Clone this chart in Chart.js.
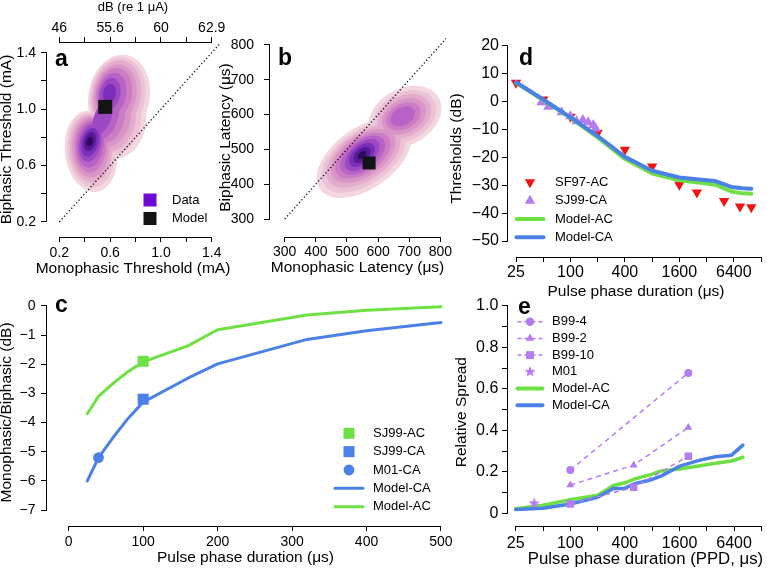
<!DOCTYPE html>
<html>
<head>
<meta charset="utf-8">
<script src="https://cdn.jsdelivr.net/npm/chart.js@4.4.1/dist/chart.umd.min.js"></script>
<style>
  body { margin: 0; background: #fff; width: 767px; height: 569px; position: relative; overflow: hidden; }
  canvas { position: absolute; }
</style>
</head>
<body>
<canvas id="panel-a" width="232" height="285" style="left:0px;top:0px"></canvas>
<canvas id="panel-b" width="240" height="285" style="left:216px;top:0px"></canvas>
<canvas id="panel-d" width="317" height="300" style="left:450px;top:0px"></canvas>
<canvas id="panel-c" width="460" height="284" style="left:0px;top:285px"></canvas>
<canvas id="panel-e" width="317" height="284" style="left:450px;top:285px"></canvas>
<script>
// ---- panel a: thresholds (density contours) ----
const aTicks = [0.2, 0.4, 0.6, 0.8, 1.0, 1.2, 1.4];
const aTickLabels = ['0.2', '', '0.6', '', '1.0', '', '1.4'];
const aDbLabels = ['46', '', '55.6', '', '60', '', '62.9'];
const aModelMono = [0.561];
const aModelBi = [1.016];
const aDiag = [0.2, 1.47];
// contour levels, outer to inner: [centre x, centre y, semi-major, semi-minor, angle deg]
const aLevels = [
  [[0.45, 0.70, 0.29, 0.205, 100], [0.67, 0.88, 0.25, 0.20, 58], [0.67, 1.09, 0.30, 0.24, 75]],
  [[0.45, 0.71, 0.265, 0.185, 98], [0.65, 0.89, 0.23, 0.18, 60], [0.66, 1.095, 0.275, 0.215, 75]],
  [[0.448, 0.72, 0.24, 0.165, 95], [0.63, 0.90, 0.21, 0.16, 62], [0.65, 1.10, 0.25, 0.19, 75]],
  [[0.446, 0.73, 0.215, 0.145, 92], [0.61, 0.91, 0.19, 0.14, 63], [0.64, 1.10, 0.22, 0.165, 75]],
  [[0.445, 0.74, 0.19, 0.125, 88], [0.59, 0.92, 0.17, 0.115, 64], [0.63, 1.105, 0.19, 0.14, 75]],
  [[0.444, 0.75, 0.165, 0.105, 82], [0.565, 0.93, 0.15, 0.09, 65], [0.615, 1.105, 0.155, 0.11, 75]],
  [[0.443, 0.76, 0.135, 0.085, 76], [0.54, 0.94, 0.13, 0.065, 66], [0.60, 1.11, 0.115, 0.08, 75]],
  [[0.442, 0.765, 0.105, 0.065, 72], [0.595, 1.11, 0.07, 0.05, 75]],
  [[0.441, 0.77, 0.07, 0.045, 70]],
  [[0.44, 0.77, 0.035, 0.024, 70]]
];

// ---- panel b: latencies (density contours) ----
const bTicks = [300, 400, 500, 600, 700, 800];
const bTickLabels = ['300', '400', '500', '600', '700', '800'];
const bModelMono = [571];
const bModelBi = [461];
const bDiag = [300, 820];
const bLevels = [
  [[555, 475, 168, 90, 30], [686, 594, 122, 82, 22]],
  [[554, 477, 150, 79, 30], [685, 594, 106, 70, 22]],
  [[553, 479, 132, 69, 30], [684, 595, 90, 59, 22]],
  [[552, 481, 115, 60, 30], [683, 595, 74, 48, 22]],
  [[551, 482, 98, 51, 30], [681, 595, 58, 37, 22]],
  [[550, 483, 81, 43, 32], [679, 595, 41, 26, 22]],
  [[549, 484, 64, 34, 35]],
  [[548, 484, 47, 26, 35]],
  [[548, 484, 31, 18, 35]],
  [[548, 484, 15, 9, 35]]
];
const densityColors = ['#f4d6e1', '#ecc2d6', '#e3accc', '#d995c6', '#cc7cc4',
  '#b862c6', '#9c48c3', '#7b2eb7', '#561a97', '#2e0a58'];

// ---- panel c: monophasic / biphasic ratio ----
const cTicksX = [0, 100, 200, 300, 400, 500];
const cTickLabelsX = ['0', '100', '200', '300', '400', '500'];
const cTicksY = [-7, -6, -5, -4, -3, -2, -1, 0];
const cTickLabelsY = ['\u22127', '\u22126', '\u22125', '\u22124', '\u22123', '\u22122', '\u22121', '0'];
const cPpd = [25, 40, 60, 80, 100, 160, 200, 320, 400, 500];
const cModelAC = [-3.7, -3.1, -2.65, -2.25, -1.92, -1.37, -0.82, -0.31, -0.15, -0.03];
const cModelCA = [-6.0, -5.2, -4.5, -3.85, -3.3, -2.48, -1.99, -1.15, -0.85, -0.57];
const cSj99Ppd = [100];
const cSj99AC = [-1.9];
const cSj99CA = [-3.2];
const cM01Ppd = [40];
const cM01CA = [-5.2];

// ---- panel d: thresholds vs phase duration ----
const logTicks = [25, 50, 100, 200, 400, 800, 1600, 3200, 6400, 12800];
const logTickLabels = ['25', '', '100', '', '400', '', '1600', '', '6400', ''];
const dTicksY = [-50, -40, -30, -20, -10, 0, 10, 20];
const dTickLabelsY = ['\u221250', '\u221240', '\u221230', '\u221220', '\u221210', '0', '10', '20'];
const dSf97Ppd = [25, 50, 100, 200, 400, 800, 1600, 2500, 5000, 7500, 10000];
const dSf97Db = [6.8, 0.8, -5.4, -11.1, -17.2, -23.3, -29.8, -32.6, -35.6, -37.6, -37.9];
const dSj99Ppd = [48, 57, 80, 100, 117, 137, 157, 179, 190];
const dSj99Db = [-0.2, -1.8, -3.8, -5.2, -7.0, -6.6, -7.4, -8.4, -9.6];
const dModelPpd = [25, 50, 100, 200, 400, 800, 1600, 3200, 4000, 6000, 8000, 10000];
const dModelAC = [6.8, 0.6, -5.8, -12.8, -20.5, -25.8, -28.2, -29.4, -29.8, -32.2, -32.9, -33.0];
const dModelCA = [7.0, 0.8, -5.6, -12.3, -19.8, -24.8, -27.2, -28.2, -28.5, -30.6, -31.1, -31.2];

// ---- panel e: relative spread ----
const eTicksY = [0, 0.1, 0.2, 0.3, 0.4, 0.5, 0.6, 0.7, 0.8, 0.9, 1];
const eTickLabelsY = ['0', '', '0.2', '', '0.4', '', '0.6', '', '0.8', '', '1.0'];
const eModelPpd = [25, 50, 100, 200, 300, 400, 500, 800, 1000, 1600, 2700, 4000, 6000, 8000];
const eModelAC = [0.023, 0.04, 0.066, 0.088, 0.135, 0.148, 0.165, 0.19, 0.205, 0.214, 0.23, 0.242, 0.253, 0.271];
const eModelCA = [0.02, 0.025, 0.046, 0.078, 0.121, 0.121, 0.142, 0.164, 0.18, 0.228, 0.257, 0.273, 0.281, 0.329];
const eB994Ppd = [100, 2000];
const eB994 = [0.209, 0.677];
const eB99Ppd = [100, 500, 2000];
const eB992 = [0.137, 0.233, 0.414];
const eB9910 = [0.046, 0.126, 0.276];
const eM01Ppd = [40];
const eM01 = [0.049];

const FONT = '"Liberation Sans", Arial, Helvetica, sans-serif';
const RED = '#f01414', PURPLE = '#b47cf0', GREEN = '#6ee043', BLUE = '#4b80e6';
const DATA_PURPLE = '#6a0ad6', MODEL_BLACK = '#141414';

Chart.defaults.font.family = FONT;
Chart.defaults.color = '#000';

function pts(xs, ys) {
  return xs.map((x, i) => ({ x: x, y: ys[i] }));
}

function lineSet(xs, ys, color, width) {
  return { data: pts(xs, ys), showLine: true, borderColor: color, borderWidth: width,
    pointRadius: 0, borderCapStyle: 'round', borderJoinStyle: 'round', tension: 0, fill: false };
}

function pointSet(xs, ys, color, style, radius, rotation) {
  return { data: pts(xs, ys), showLine: false, pointStyle: style, pointRadius: radius,
    pointRotation: rotation || 0, pointBackgroundColor: color, pointBorderWidth: 0, borderColor: color };
}

function dashedSet(xs, ys, color, style, radius) {
  return { data: pts(xs, ys), showLine: true, borderColor: color, borderWidth: 1.5, borderDash: [5, 4],
    pointStyle: style, pointRadius: radius, pointBackgroundColor: color, pointBorderWidth: 0, fill: false };
}

function starImage(color, size) {
  const c = document.createElement('canvas');
  c.width = c.height = size;
  const g = c.getContext('2d');
  g.fillStyle = color;
  g.beginPath();
  for (let i = 0; i < 10; i++) {
    const r = i % 2 ? size * 0.21 : size / 2;
    const a = -Math.PI / 2 + i * Math.PI / 5;
    g.lineTo(size / 2 + r * Math.cos(a), size / 2 + r * Math.sin(a));
  }
  g.closePath();
  g.fill();
  return c;
}
const star = starImage(PURPLE, 12);

// axis in the R style: ticks outside, labels only where given
function axis(o) {
  return {
    type: o.type || 'linear',
    position: o.position,
    min: o.min,
    max: o.max,
    afterBuildTicks: s => { s.ticks = o.ticks.map(v => ({ value: v })); },
    afterFit: s => { if (s.isHorizontal()) s.height = o.size; else s.width = o.size; },
    grid: { drawOnChartArea: false, drawTicks: true, tickLength: 5, color: '#000', tickColor: '#000', lineWidth: 1 },
    border: { display: false },
    ticks: {
      autoSkip: false, maxRotation: 0, minRotation: 0, padding: o.pad, color: '#000',
      font: { size: o.font },
      callback: v => { const i = o.ticks.indexOf(v); return i >= 0 ? o.labels[i] : ''; }
    },
    title: { display: !!o.title, text: o.title || '', color: '#000', font: { size: o.titleSize || 15.5 },
      padding: { top: o.titlePad || 0, bottom: o.titlePad || 0 } }
  };
}

// filled density levels, drawn through the chart scales
function contourPlugin(levels, colors) {
  return {
    id: 'contours',
    beforeDatasetsDraw(chart) {
      const { ctx, chartArea: ca, scales: { x, y } } = chart;
      ctx.save();
      ctx.beginPath();
      ctx.rect(ca.left, ca.top, ca.width, ca.height);
      ctx.clip();
      levels.forEach((level, i) => {
        ctx.fillStyle = colors[i];
        ctx.beginPath();
        level.forEach(([cx, cy, a, b, deg]) => {
          const r = deg * Math.PI / 180;
          for (let k = 0; k <= 90; k++) {
            const t = k / 90 * 2 * Math.PI;
            const dx = a * Math.cos(t) * Math.cos(r) - b * Math.sin(t) * Math.sin(r);
            const dy = a * Math.cos(t) * Math.sin(r) + b * Math.sin(t) * Math.cos(r);
            const px = x.getPixelForValue(cx + dx), py = y.getPixelForValue(cy + dy);
            if (k) ctx.lineTo(px, py); else ctx.moveTo(px, py);
          }
          ctx.closePath();
        });
        ctx.fill();
      });
      ctx.restore();
    }
  };
}

// axis lines that run from the first to the last tick only
const rAxes = {
  id: 'rAxes',
  afterDraw(chart) {
    const { ctx, chartArea: ca } = chart;
    const al = p => Math.round(p - 0.5) + 0.5;
    ctx.save();
    ctx.strokeStyle = '#000';
    ctx.lineWidth = 1;
    Object.values(chart.scales).forEach(s => {
      const t = s.ticks;
      if (!t.length) return;
      const p0 = al(s.getPixelForValue(t[0].value)), p1 = al(s.getPixelForValue(t[t.length - 1].value));
      ctx.beginPath();
      if (s.position === 'left') {
        const xx = al(ca.left);
        ctx.moveTo(xx, Math.max(p0, p1) + 0.5);
        ctx.lineTo(xx, Math.min(p0, p1) - 0.5);
      } else {
        const yy = al(s.position === 'top' ? ca.top : ca.bottom);
        ctx.moveTo(p0 - 0.5, yy);
        ctx.lineTo(p1 + 0.5, yy);
      }
      ctx.stroke();
    });
    ctx.restore();
  }
};

// panel letter, long axis titles and in-plot legend
function decorPlugin(letter, legend, texts) {
  return {
    id: 'decor',
    afterDraw(chart) {
      const ctx = chart.ctx;
      ctx.save();
      ctx.fillStyle = '#000';
      ctx.font = 'bold 23px ' + FONT;
      ctx.textBaseline = 'alphabetic';
      ctx.textAlign = 'left';
      ctx.fillText(letter[0], letter[1], letter[2]);
      (texts || []).forEach(t => {
        ctx.font = t.size + 'px ' + FONT;
        ctx.textAlign = 'center';
        ctx.textBaseline = 'middle';
        ctx.fillText(t.text, t.x, t.y);
      });
      ctx.textAlign = 'left';
      if (legend) {
        ctx.font = '13px ' + FONT;
        ctx.textBaseline = 'middle';
        legend.items.forEach((it, i) => {
          const y = legend.y + i * legend.dy;
          if (it.line) {
            ctx.strokeStyle = it.color;
            ctx.lineWidth = it.line;
            ctx.setLineDash(it.dash || []);
            ctx.lineCap = it.dash ? 'butt' : 'round';
            ctx.beginPath();
            ctx.moveTo(legend.x - legend.half, y);
            ctx.lineTo(legend.x + legend.half, y);
            ctx.stroke();
            ctx.setLineDash([]);
          }
          if (it.point) {
            ctx.fillStyle = it.color;
            ctx.strokeStyle = it.color;
            Chart.helpers.drawPoint(ctx, { pointStyle: it.point, radius: it.radius,
              rotation: it.rotation || 0, borderWidth: 0 }, legend.x, y);
          }
          ctx.fillStyle = '#000';
          ctx.fillText(it.label, legend.textX, y);
        });
      }
      ctx.restore();
    }
  };
}

function makeChart(id, cfg) {
  return new Chart(document.getElementById(id), {
    type: 'scatter',
    data: { datasets: cfg.datasets },
    options: {
      responsive: false,
      animation: false,
      events: [],
      layout: { padding: cfg.padding, autoPadding: false },
      scales: cfg.scales,
      plugins: { legend: { display: false }, tooltip: { enabled: false } }
    },
    plugins: cfg.plugins
  });
}

// panel a
makeChart('panel-a', {
  padding: { left: 0, top: 0, right: 12, bottom: 0 },
  datasets: [
    pointSet(aModelMono, aModelBi, MODEL_BLACK, 'rect', 9.9),
    Object.assign(lineSet(aDiag, aDiag, '#000', 1.3), { borderDash: [1.2, 2.4], borderCapStyle: 'butt' })
  ],
  scales: {
    x: axis({ position: 'bottom', min: 0.095, max: 1.465, ticks: aTicks, labels: aTickLabels,
      size: 48, pad: 3, font: 14 }),
    x2: axis({ position: 'top', min: 0.095, max: 1.465, ticks: aTicks, labels: aDbLabels,
      size: 42, pad: 0.5, font: 14, title: 'dB (re 1 \u03bcA)', titleSize: 13, titlePad: -0.5 }),
    y: axis({ position: 'left', min: 0.0935, max: 1.476, ticks: aTicks, labels: aTickLabels,
      size: 46, pad: 5, font: 14, title: 'Biphasic Threshold (mA)', titlePad: -2.3 })
  },
  plugins: [contourPlugin(aLevels, densityColors), rAxes, decorPlugin(['a', 55, 65.5], {
    x: 150, half: 0, textX: 172, y: 200, dy: 18.5,
    items: [
      { label: 'Data', color: DATA_PURPLE, point: 'rect', radius: 9.2 },
      { label: 'Model', color: MODEL_BLACK, point: 'rect', radius: 9.2 }
    ]
  }, [{ text: 'Monophasic Threshold (mA)', x: 133, y: 268.3, size: 15.5 }])]
});

// panel b
makeChart('panel-b', {
  padding: { left: 0, top: 38, right: 10, bottom: 0 },
  datasets: [
    pointSet(bModelMono, bModelBi, MODEL_BLACK, 'rect', 9.2),
    Object.assign(lineSet(bDiag, bDiag, '#000', 1.3), { borderDash: [1.2, 2.4], borderCapStyle: 'butt' })
  ],
  scales: {
    x: axis({ position: 'bottom', min: 249.5, max: 818, ticks: bTicks, labels: bTickLabels,
      size: 48, pad: 2.1, font: 14, title: 'Monophasic Latency (\u03bcs)', titlePad: 7.7 }),
    y: axis({ position: 'left', min: 248.3, max: 820, ticks: bTicks, labels: bTickLabels,
      size: 53, pad: 10, font: 14, title: 'Biphasic Latency (\u03bcs)', titlePad: 0.7 })
  },
  plugins: [contourPlugin(bLevels, densityColors), rAxes, decorPlugin(['b', 62, 65], null)]
});

// panel d
makeChart('panel-d', {
  padding: { left: 0, top: 40, right: 2, bottom: 0 },
  datasets: [
    lineSet(dModelPpd, dModelCA, BLUE, 4),
    lineSet(dModelPpd, dModelAC, GREEN, 4),
    pointSet(dSj99Ppd, dSj99Db, PURPLE, 'triangle', 6),
    pointSet(dSf97Ppd, dSf97Db, RED, 'triangle', 6, 180)
  ],
  scales: {
    x: axis({ type: 'logarithmic', position: 'bottom', min: 19.88, max: 14170, ticks: logTicks, labels: logTickLabels,
      size: 43, pad: 1, font: 16, title: 'Pulse phase duration (\u03bcs)', titlePad: -1.3 }),
    y: axis({ position: 'left', min: -55.74, max: 22.15, ticks: dTicksY, labels: dTickLabelsY,
      size: 57, pad: 3, font: 16, title: 'Thresholds (dB)', titlePad: -2.3 })
  },
  plugins: [rAxes, decorPlugin(['d', 69, 65], {
    x: 80, half: 13.5, textX: 105, y: 182.3, dy: 18.35,
    items: [
      { label: 'SF97-AC', color: RED, point: 'triangle', radius: 6, rotation: 180 },
      { label: 'SJ99-CA', color: PURPLE, point: 'triangle', radius: 6 },
      { label: 'Model-AC', color: GREEN, line: 4 },
      { label: 'Model-CA', color: BLUE, line: 4 }
    ]
  })]
});

// panel c
makeChart('panel-c', {
  padding: { left: 0, top: 13, right: 15, bottom: 0 },
  datasets: [
    pointSet(cSj99Ppd, cSj99AC, GREEN, 'rect', 7.8),
    pointSet(cSj99Ppd, cSj99CA, BLUE, 'rect', 7.8),
    pointSet(cM01Ppd, cM01CA, BLUE, 'circle', 5.4),
    lineSet(cPpd, cModelCA, BLUE, 3),
    lineSet(cPpd, cModelAC, GREEN, 3)
  ],
  scales: {
    x: axis({ position: 'bottom', min: -30.5, max: 505.4, ticks: cTicksX, labels: cTickLabelsX,
      size: 43, pad: 2.6, font: 14, title: 'Pulse phase duration (\u03bcs)', titlePad: 2.4 }),
    y: axis({ position: 'left', min: -7.546, max: 0.239, ticks: cTicksY, labels: cTickLabelsY,
      size: 46, pad: 5.5, font: 14, title: 'Monophasic/Biphasic (dB)', titlePad: -2.3 })
  },
  plugins: [rAxes, decorPlugin(['c', 55, 27], {
    x: 349, half: 14, textX: 373, y: 148.3, dy: 18.35,
    items: [
      { label: 'SJ99-AC', color: GREEN, point: 'rect', radius: 7.8 },
      { label: 'SJ99-CA', color: BLUE, point: 'rect', radius: 7.8 },
      { label: 'M01-CA', color: BLUE, point: 'circle', radius: 5.4 },
      { label: 'Model-CA', color: BLUE, line: 3 },
      { label: 'Model-AC', color: GREEN, line: 3 }
    ]
  })]
});

// panel e
makeChart('panel-e', {
  padding: { left: 0, top: 13, right: 2, bottom: 0 },
  datasets: [
    dashedSet(eB994Ppd, eB994, PURPLE, 'circle', 4),
    dashedSet(eB99Ppd, eB992, PURPLE, 'triangle', 4.6),
    dashedSet(eB99Ppd, eB9910, PURPLE, 'rect', 5.3),
    pointSet(eM01Ppd, eM01, PURPLE, star, 6),
    lineSet(eModelPpd, eModelCA, BLUE, 3.5),
    lineSet(eModelPpd, eModelAC, GREEN, 3.5)
  ],
  scales: {
    x: axis({ type: 'logarithmic', position: 'bottom', min: 20.04, max: 14025, ticks: logTicks, labels: logTickLabels,
      size: 43, pad: 2.7, font: 16 }),
    y: axis({ position: 'left', min: -0.060, max: 1.036, ticks: eTicksY, labels: eTickLabelsY,
      size: 57, pad: 3.7, font: 16, title: 'Relative Spread', titlePad: 2.2 })
  },
  plugins: [rAxes, decorPlugin(['e', 68, 29], {
    x: 80, half: 12.5, textX: 102, y: 36.7, dy: 16.7,
    items: [
      { label: 'B99-4', color: PURPLE, point: 'circle', radius: 4.2, line: 1.5, dash: [4, 3] },
      { label: 'B99-2', color: PURPLE, point: 'triangle', radius: 4.8, line: 1.5, dash: [4, 3] },
      { label: 'B99-10', color: PURPLE, point: 'rect', radius: 5.6, line: 1.5, dash: [4, 3] },
      { label: 'M01', color: PURPLE, point: star, radius: 6 },
      { label: 'Model-AC', color: GREEN, line: 4 },
      { label: 'Model-CA', color: BLUE, line: 4 }
    ]
  }, [{ text: 'Pulse phase duration (PPD, \u03bcs)', x: 195.5, y: 274.3, size: 16.8 }])]
});
</script>
</body>
</html>
